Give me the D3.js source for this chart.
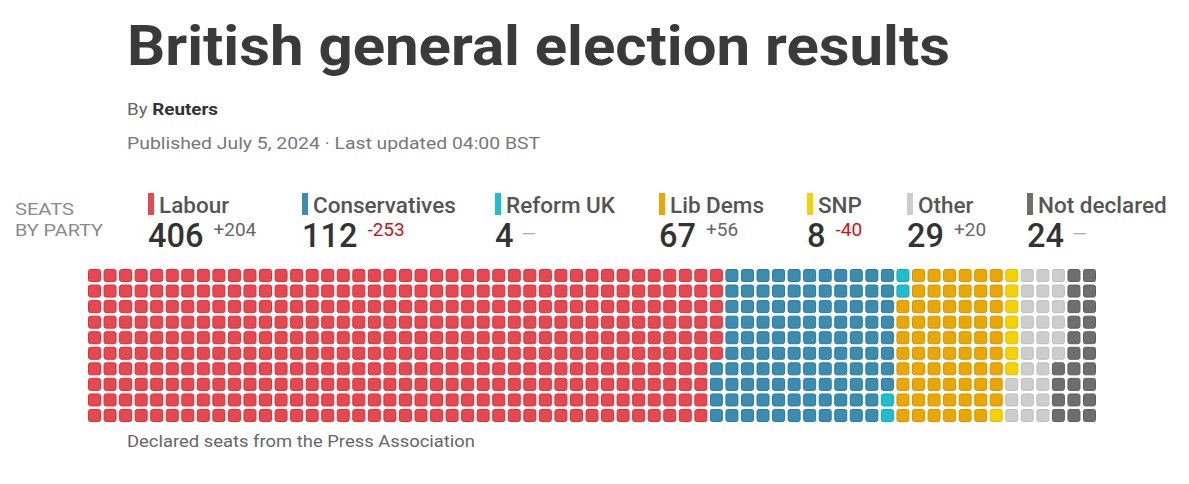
<!DOCTYPE html>
<html>
<head>
<meta charset="utf-8">
<script src="https://cdn.jsdelivr.net/npm/d3@7"></script>
<style>
  html, body { margin: 0; padding: 0; background: #fff; }
  svg { display: block; font-family: Roboto, "Noto Sans", sans-serif; }
</style>
</head>
<body>
<svg id="chart" width="1189" height="484"></svg>
<script>
// ---- data ----
const parties = ["Labour", "Conservatives", "Reform UK", "Lib Dems", "SNP", "Other", "Not declared"];
const seats = [406, 112, 4, 67, 8, 29, 24];
const changeLabels = ["+204", "-253", "—", "+56", "-40", "+20", "—"];
const partyColors = ["#E9474F", "#3A8DB1", "#1CBFCD", "#EBA700", "#F5D200", "#CDCDCD", "#6E6E6E"];
const strokeColors = ["#D9303A", "#2B7899", "#12A8B5", "#D49500", "#E0BE00", "#BDBDBD", "#5E5E5E"];
const legendX = [148, 302, 495, 659, 807, 907, 1027];
const nRows = 10;
const nCols = 65;

const svg = d3.select("#chart");
svg.append("rect").attr("width", 1189).attr("height", 484).attr("fill", "#fff");

function fit(sel, target) {
  sel.attr("textLength", target).attr("lengthAdjust", "spacingAndGlyphs");
  return sel;
}

// ---- header ----
fit(svg.append("text")
  .attr("x", 127).attr("y", 65)
  .attr("font-size", 56).attr("font-weight", 700).attr("fill", "#3a3a3a")
  .text("British general election results"), 823);

const by = svg.append("text").attr("x", 127).attr("y", 115).attr("font-size", 16.5);
by.append("tspan").attr("fill", "#666").text("By ");
by.append("tspan").attr("fill", "#333").attr("font-weight", 700).text("Reuters");
fit(by, 91);

fit(svg.append("text")
  .attr("x", 127).attr("y", 149)
  .attr("font-size", 17).attr("fill", "#777")
  .text("Published July 5, 2024 · Last updated 04:00 BST"), 413);

// ---- seats by party label ----
const sb = svg.append("g").attr("fill", "#8a8a8a").attr("font-size", 17);
fit(sb.append("text").attr("x", 15).attr("y", 215).text("SEATS"), 59);
fit(sb.append("text").attr("x", 15).attr("y", 236).text("BY PARTY"), 88);

// ---- legend ----
const leg = svg.append("g").selectAll("g").data(parties).join("g")
  .attr("transform", (d, i) => `translate(${legendX[i]},0)`);

leg.append("rect")
  .attr("x", 0).attr("y", 193).attr("width", 6).attr("height", 22)
  .attr("fill", (d, i) => partyColors[i]);

leg.append("text")
  .attr("x", 11).attr("y", 213)
  .attr("font-size", 22.5).attr("font-weight", 500).attr("fill", "#555")
  .text(d => d);

const nums = leg.append("text")
  .attr("x", 0).attr("y", 247)
  .attr("font-size", 32.5).attr("font-weight", 500).attr("fill", "#333")
  .text((d, i) => seats[i]);

nums.each(function(d, i) {
  const w = this.getComputedTextLength();
  const lab = changeLabels[i];
  const isDash = lab === "—";
  d3.select(this.parentNode).append("text")
    .attr("x", w + (isDash ? 8 : 10))
    .attr("y", isDash ? 240 : 236)
    .attr("font-size", isDash ? 19 : 19)
    .attr("fill", isDash ? "#aaa" : (lab.startsWith("-") ? "#D0111E" : "#666"))
    .text(lab);
});

// ---- waffle ----
const cells = [];
seats.forEach((n, p) => { for (let k = 0; k < n; k++) cells.push(p); });

const x = d3.scaleBand().domain(d3.range(nCols)).range([88, 1096]).paddingInner(0.164).paddingOuter(0);
const y = d3.scaleBand().domain(d3.range(nRows)).range([269, 422]).paddingInner(0.164).paddingOuter(0);
const color = d3.scaleOrdinal().domain(d3.range(parties.length)).range(partyColors);
const stroke = d3.scaleOrdinal().domain(d3.range(parties.length)).range(strokeColors);

svg.append("g").selectAll("rect").data(cells).join("rect")
  .attr("x", (d, i) => x(Math.floor(i / nRows)) + 0.5)
  .attr("y", (d, i) => y(i % nRows) + 0.5)
  .attr("width", x.bandwidth() - 1)
  .attr("height", y.bandwidth() - 1)
  .attr("rx", 2).attr("ry", 2)
  .attr("fill", d => color(d))
  .attr("stroke", d => stroke(d))
  .attr("stroke-width", 1);

// ---- footer ----
fit(svg.append("text")
  .attr("x", 127).attr("y", 447)
  .attr("font-size", 16).attr("fill", "#666")
  .text("Declared seats from the Press Association"), 348);
</script>
</body>
</html>
